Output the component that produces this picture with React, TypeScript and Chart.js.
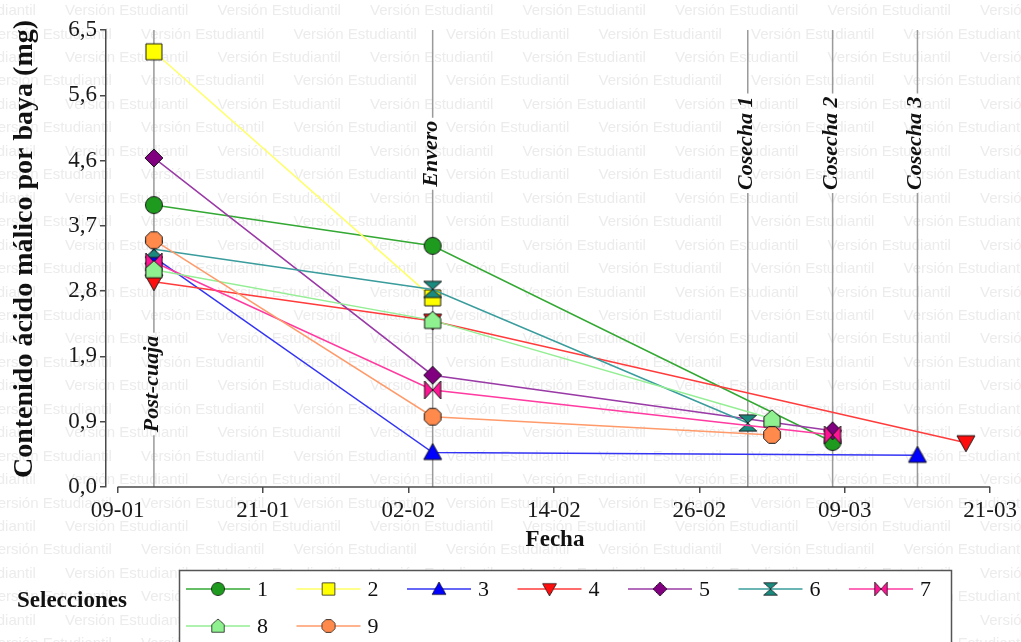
import React, { useEffect, useRef } from "react";
import { Chart, registerables } from "chart.js";

Chart.register(...registerables);

// ---------- Data ----------
const xTickDays = [9, 21, 33, 45, 57, 69, 81];
const xTickLabels = ["09-01", "21-01", "02-02", "14-02", "26-02", "09-03", "21-03"];
const yTickValues = [0, 0.92857, 1.85714, 2.78571, 3.71429, 4.64286, 5.57143, 6.5];
const yTickLabels = ["0,0", "0,9", "1,9", "2,8", "3,7", "4,6", "5,6", "6,5"];

const eventNames = ["Post-cuaja", "Envero", "Cosecha 1", "Cosecha 2", "Cosecha 3"];
const eventDays = [12, 35, 61, 68, 75];

const seriesNames = ["1", "2", "3", "4", "5", "6", "7", "8", "9"];
const days1 = [12, 35, 68];
const values1 = [4.01, 3.43, 0.64];
const days2 = [12, 35];
const values2 = [6.19, 2.69];
const days3 = [12, 35, 75];
const values3 = [3.27, 0.49, 0.45];
const days4 = [12, 35, 79];
const values4 = [2.92, 2.36, 0.63];
const days5 = [12, 35, 68];
const values5 = [4.68, 1.59, 0.8];
const days6 = [12, 35, 61];
const values6 = [3.38, 2.81, 0.91];
const days7 = [12, 35, 68];
const values7 = [3.2, 1.38, 0.74];
const days8 = [12, 35, 63];
const values8 = [3.09, 2.37, 0.97];
const days9 = [12, 35, 63];
const values9 = [3.51, 1.0, 0.74];

const allDays = [days1, days2, days3, days4, days5, days6, days7, days8, days9];
const allValues = [values1, values2, values3, values4, values5, values6, values7, values8, values9];

// ---------- Styles ----------
const lineColors = ["#33a833", "#ffff66", "#3434f5", "#ff3b3b", "#9a3aa6", "#3a9c9c", "#ff3aa0", "#94ee94", "#ff9a6a"];
const fillColors = ["#1e9b1e", "#ffff00", "#0000ff", "#ff0d0d", "#800080", "#1a8a7e", "#ff1493", "#8ef08e", "#ff8a4c"];
const shapes = ["circle", "square", "triangle", "triangleDown", "diamond", "hourglass", "bowtie", "pentagon", "octagon"];

const SERIF = '"Liberation Serif", "Times New Roman", serif';
const SANS = '"Liberation Sans", Arial, sans-serif';

function makeMarker(shape: string, fill: string, size = 18): HTMLCanvasElement {
  const c = document.createElement("canvas");
  const pad = 2;
  const dim = size + pad * 2;
  c.width = dim;
  c.height = dim;
  const ctx = c.getContext("2d") as CanvasRenderingContext2D;
  const h = size / 2;
  ctx.translate(dim / 2, dim / 2);
  ctx.fillStyle = fill;
  ctx.strokeStyle = "#1a1a1a";
  ctx.lineWidth = 1;
  const poly = (pts: number[][]) => {
    ctx.beginPath();
    pts.forEach(([x, y], i) => (i ? ctx.lineTo(x, y) : ctx.moveTo(x, y)));
    ctx.closePath();
    ctx.fill();
    ctx.stroke();
  };
  switch (shape) {
    case "circle":
      ctx.beginPath();
      ctx.arc(0, 0, h - 0.5, 0, Math.PI * 2);
      ctx.fill();
      ctx.stroke();
      break;
    case "square":
      poly([[-h + 1, -h + 1], [h - 1, -h + 1], [h - 1, h - 1], [-h + 1, h - 1]]);
      break;
    case "triangle":
      poly([[0, -h], [h, h * 0.78], [-h, h * 0.78]]);
      break;
    case "triangleDown":
      poly([[0, h], [h, -h * 0.78], [-h, -h * 0.78]]);
      break;
    case "diamond":
      poly([[0, -h], [h, 0], [0, h], [-h, 0]]);
      break;
    case "hourglass":
      poly([[-h, -h * 0.9], [h, -h * 0.9], [0, 0]]);
      poly([[-h, h * 0.9], [h, h * 0.9], [0, 0]]);
      break;
    case "bowtie":
      poly([[-h * 0.9, -h], [0, 0], [-h * 0.9, h]]);
      poly([[h * 0.9, -h], [0, 0], [h * 0.9, h]]);
      break;
    case "pentagon":
      poly([[0, -h], [h * 0.9, -h * 0.2], [h * 0.9, h * 0.9], [-h * 0.9, h * 0.9], [-h * 0.9, -h * 0.2]]);
      break;
    case "octagon": {
      const pts: number[][] = [];
      for (let k = 0; k < 8; k++) {
        const a = Math.PI / 8 + (k * Math.PI) / 4;
        pts.push([Math.cos(a) * h, Math.sin(a) * h]);
      }
      poly(pts);
      break;
    }
  }
  return c;
}

export default function App() {
  const ref = useRef<HTMLCanvasElement>(null);

  useEffect(() => {
    document.body.style.margin = "0";
    const markers = shapes.map((s, i) => makeMarker(s, fillColors[i]));

    const watermarkPlugin = {
      id: "watermark",
      beforeDraw(chart: any) {
        const ctx = chart.ctx as CanvasRenderingContext2D;
        ctx.save();
        ctx.fillStyle = "#ffffff";
        ctx.fillRect(0, 0, chart.width, chart.height);
        ctx.font = `15px ${SANS}`;
        ctx.fillStyle = "#ececec";
        ctx.textBaseline = "middle";
        ctx.textAlign = "left";
        for (let n = 0; n < 28; n++) {
          const y = 11 + n * 23.45;
          const start = (n % 2 === 0 ? 65 : 141) - 152.5 * 2;
          for (let x = start; x < chart.width; x += 152.5) ctx.fillText("Versión Estudiantil", x, y);
        }
        ctx.restore();
      },
    };

    const eventPlugin = {
      id: "events",
      beforeDatasetsDraw(chart: any) {
        const ctx = chart.ctx as CanvasRenderingContext2D;
        const xs = chart.scales.x;
        const ys = chart.scales.y;
        const area = chart.chartArea;
        const centers = [1.465, 4.74, 4.89, 4.89, 4.89];
        ctx.save();
        ctx.font = `italic bold 22px ${SERIF}`;
        eventNames.forEach((name, i) => {
          const x = xs.getPixelForValue(eventDays[i]);
          const cy = ys.getPixelForValue(centers[i]);
          const w = ctx.measureText(name).width;
          ctx.strokeStyle = "#9a9a9a";
          ctx.lineWidth = 1.5;
          ctx.beginPath();
          ctx.moveTo(x, area.top);
          ctx.lineTo(x, cy - w / 2 - 3);
          ctx.moveTo(x, cy + w / 2 + 3);
          ctx.lineTo(x, area.bottom);
          ctx.stroke();
          ctx.save();
          ctx.translate(x + 4, cy);
          ctx.rotate(-Math.PI / 2);
          ctx.fillStyle = "#111";
          ctx.textAlign = "center";
          ctx.textBaseline = "alphabetic";
          ctx.fillText(name, 0, 0);
          ctx.restore();
        });
        // x axis line (offset from y axis)
        ctx.strokeStyle = "#4a4a4a";
        ctx.lineWidth = 1.5;
        ctx.beginPath();
        ctx.moveTo(xs.getPixelForValue(xTickDays[0]), area.bottom);
        ctx.lineTo(xs.getPixelForValue(xTickDays[xTickDays.length - 1]), area.bottom);
        ctx.stroke();
        ctx.restore();
      },
    };

    const decorPlugin = {
      id: "decor",
      afterDraw(chart: any) {
        const ctx = chart.ctx as CanvasRenderingContext2D;
        ctx.save();
        // axis titles
        ctx.fillStyle = "#111";
        ctx.font = `bold 23px ${SERIF}`;
        ctx.textAlign = "center";
        ctx.textBaseline = "middle";
        ctx.fillText("Fecha", 555, 540);
        ctx.save();
        ctx.translate(25, 249);
        ctx.rotate(-Math.PI / 2);
        ctx.font = `bold 28px ${SERIF}`;
        ctx.fillText("Contenido ácido málico por baya (mg)", 0, 0);
        ctx.restore();

        // legend
        ctx.fillStyle = "#ffffff";
        ctx.fillRect(180, 571, 771, 80);
        ctx.strokeStyle = "#555";
        ctx.lineWidth = 1.5;
        ctx.strokeRect(179.5, 570.5, 772, 100);
        ctx.fillStyle = "#111";
        ctx.font = `bold 23px ${SERIF}`;
        ctx.textAlign = "left";
        ctx.fillText("Selecciones", 17, 601);
        ctx.font = `22px ${SERIF}`;
        seriesNames.forEach((name, i) => {
          const row = i < 7 ? 0 : 1;
          const col = i < 7 ? i : i - 7;
          const x = 186 + col * 110.5;
          const y = row === 0 ? 589 : 626;
          ctx.strokeStyle = lineColors[i];
          ctx.lineWidth = 1.5;
          ctx.beginPath();
          ctx.moveTo(x, y);
          ctx.lineTo(x + 64, y);
          ctx.stroke();
          const m = markers[i];
          const s = m.width * 0.78;
          ctx.drawImage(m, x + 32 - s / 2, y - s / 2, s, s);
          ctx.fillStyle = "#111";
          ctx.fillText(name, x + 71, y + 1);
        });
        ctx.restore();
      },
    };

    const datasets = seriesNames.map((name, i) => ({
      label: name,
      data: allDays[i].map((d, k) => ({ x: d, y: allValues[i][k] })),
      showLine: true,
      borderColor: lineColors[i],
      backgroundColor: fillColors[i],
      borderWidth: 1.5,
      pointStyle: markers[i] as any,
      pointRadius: 9,
      pointHoverRadius: 9,
      tension: 0,
      fill: false,
      order: 9 - i,
    }));

    const tickFont = { family: SERIF, size: 23 };

    const chart = new Chart(ref.current as HTMLCanvasElement, {
      type: "scatter",
      data: { datasets },
      options: {
        animation: false,
        responsive: false,
        maintainAspectRatio: false,
        layout: { padding: { left: 0, right: 27, top: 30, bottom: 0 } },
        plugins: { legend: { display: false }, tooltip: { enabled: false } },
        scales: {
          x: {
            type: "linear",
            min: 8.047,
            max: 81,
            afterBuildTicks: (scale: any) => {
              scale.ticks = xTickDays.map((v) => ({ value: v }));
            },
            afterFit: (scale: any) => {
              scale.height = 155;
            },
            ticks: {
              autoSkip: false,
              maxRotation: 0,
              padding: 4,
              color: "#1a1a1a",
              font: tickFont,
              callback: (_v: any, idx: number) => xTickLabels[idx],
            },
            grid: { display: true, drawOnChartArea: false, drawTicks: true, tickLength: 6, color: "#4a4a4a", lineWidth: 1.5 },
            border: { display: false },
          },
          y: {
            type: "linear",
            min: 0,
            max: 6.5,
            afterBuildTicks: (scale: any) => {
              scale.ticks = yTickValues.map((v) => ({ value: v }));
            },
            afterFit: (scale: any) => {
              scale.width = 106;
            },
            ticks: {
              autoSkip: false,
              padding: 3,
              color: "#1a1a1a",
              font: tickFont,
              callback: (_v: any, idx: number) => yTickLabels[idx],
            },
            grid: { display: true, drawOnChartArea: false, drawTicks: true, tickLength: 6, color: "#4a4a4a", lineWidth: 1.5 },
            border: { display: true, color: "#4a4a4a", width: 1.5 },
          },
        },
      },
      plugins: [watermarkPlugin, eventPlugin, decorPlugin],
    } as any);

    return () => chart.destroy();
  }, []);

  return <canvas ref={ref} width={1021} height={642} style={{ display: "block", width: 1021, height: 642 }} />;
}
